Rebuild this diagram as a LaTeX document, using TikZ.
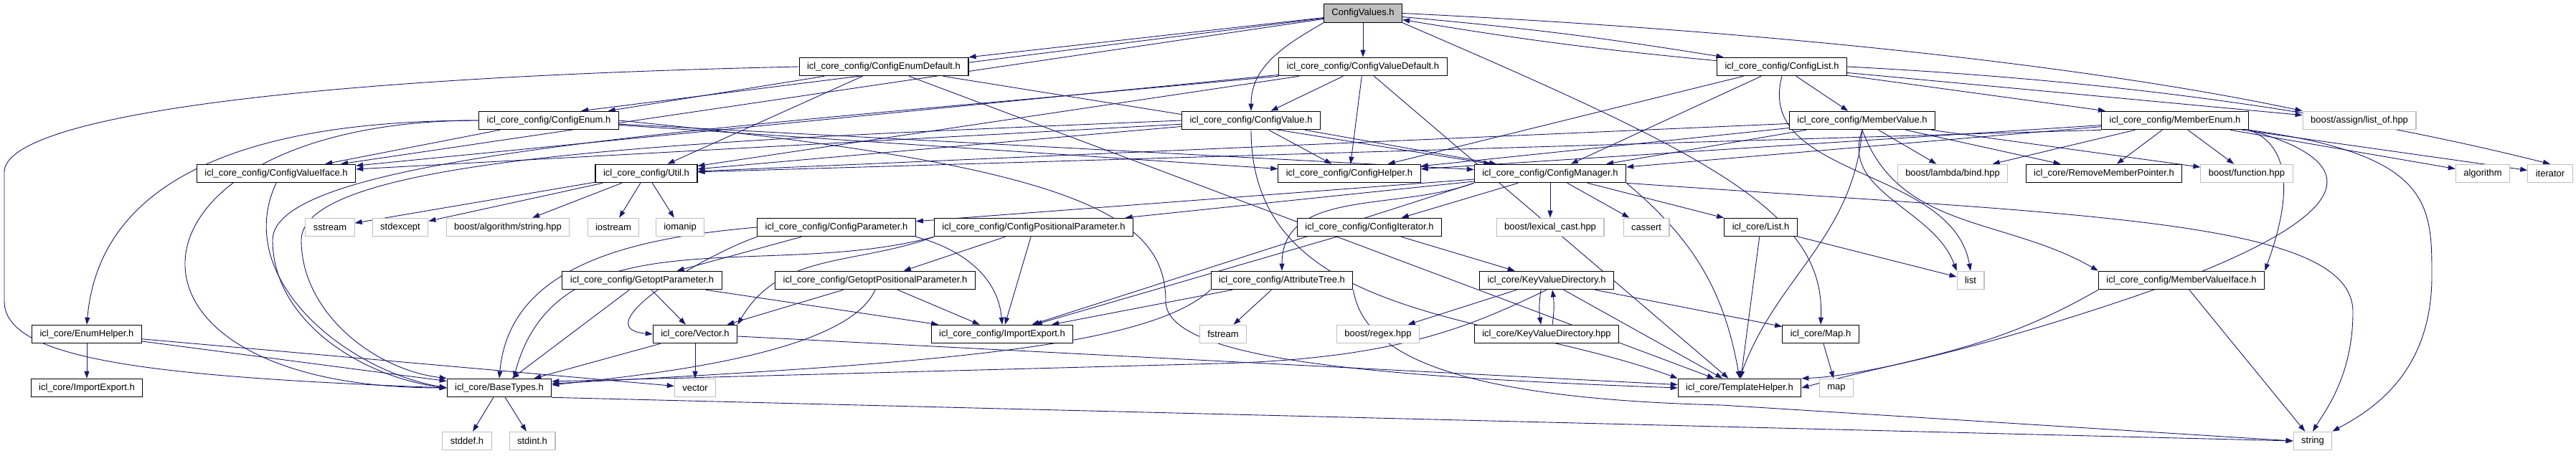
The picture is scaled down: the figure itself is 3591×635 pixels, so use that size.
\documentclass[tikz,border=0pt]{standalone}
\usepackage{fontspec}
\setmainfont{Liberation Sans}
\usetikzlibrary{arrows.meta}
\definecolor{edgeblue}{HTML}{191970}
\definecolor{sysgray}{HTML}{BFBFBF}
\pgfdeclarelayer{edges}
\pgfsetlayers{edges,main}

\begin{document}
\begin{tikzpicture}
[
x=1pt,y=1pt,
header/.style={draw=black,line width=1.1pt,fill=white,minimum height=25.5pt,inner xsep=11pt,inner ysep=0pt,font=\fontsize{13}{15}\selectfont},
sysheader/.style={header,draw=sysgray},
rootheader/.style={header,fill=sysgray},
dep/.style={draw=edgeblue,line width=0.9pt,-{Triangle[length=10pt,width=7pt]}},
]
\useasboundingbox (0,0) rectangle (3591,635);

%Place the nodes
\node[rootheader] (cvs) at (1900,616.5) {ConfigValues.h};
\node[header] (enumdef) at (1232,542) {icl\_core\_config/ConfigEnumDefault.h};
\node[header] (valuedef) at (1900,542) {icl\_core\_config/ConfigValueDefault.h};
\node[header] (clist) at (2484,542) {icl\_core\_config/ConfigList.h};
\node[header] (enum) at (765,467) {icl\_core\_config/ConfigEnum.h};
\node[header] (value) at (1744,467) {icl\_core\_config/ConfigValue.h};
\node[header] (mvalue) at (2596,467) {icl\_core\_config/MemberValue.h};
\node[header] (menum) at (3032,467) {icl\_core\_config/MemberEnum.h};
\node[sysheader] (listof) at (3289,467) {boost/assign/list\_of.hpp};
\node[header] (viface) at (385,393) {icl\_core\_config/ConfigValueIface.h};
\node[header] (util) at (901,393) {icl\_core\_config/Util.h};
\node[header] (helper) at (1881,393) {icl\_core\_config/ConfigHelper.h};
\node[header] (manager) at (2161,393) {icl\_core\_config/ConfigManager.h};
\node[sysheader] (bind) at (2722,393) {boost/lambda/bind.hpp};
\node[header] (rmp) at (2933,393) {icl\_core/RemoveMemberPointer.h};
\node[sysheader] (function) at (3132,393) {boost/function.hpp};
\node[sysheader] (algorithm) at (3461,393) {algorithm};
\node[sysheader] (iterator) at (3555,393) {iterator};
\node[sysheader] (sstream) at (460,318) {sstream};
\node[sysheader] (stdexcept) at (558,318) {stdexcept};
\node[sysheader] (algstring) at (708,318) {boost/algorithm/string.hpp};
\node[sysheader] (iostream) at (855,318) {iostream};
\node[sysheader] (iomanip) at (948,318) {iomanip};
\node[header] (param) at (1166,318) {icl\_core\_config/ConfigParameter.h};
\node[header] (posparam) at (1441,318) {icl\_core\_config/ConfigPositionalParameter.h};
\node[header] (citer) at (1909,318) {icl\_core\_config/ConfigIterator.h};
\node[sysheader] (lexcast) at (2161,318) {boost/lexical\_cast.hpp};
\node[sysheader] (cassert) at (2295,318) {cassert};
\node[header] (icllist) at (2454.5,318) {icl\_core/List.h};
\node[header] (getopt) at (895,244) {icl\_core\_config/GetoptParameter.h};
\node[header] (getoptpos) at (1220,244) {icl\_core\_config/GetoptPositionalParameter.h};
\node[header] (atree) at (1787,244) {icl\_core\_config/AttributeTree.h};
\node[header] (kvd) at (2156,244) {icl\_core/KeyValueDirectory.h};
\node[sysheader] (list) at (2747,244) {list};
\node[header] (mviface) at (3041,244) {icl\_core\_config/MemberValueIface.h};
\node[header] (enumhelper) at (121,169) {icl\_core/EnumHelper.h};
\node[header] (vectorh) at (969,169) {icl\_core/Vector.h};
\node[header] (cfgie) at (1397,169) {icl\_core\_config/ImportExport.h};
\node[sysheader] (fstream) at (1705,169) {fstream};
\node[sysheader] (regex) at (1921,169) {boost/regex.hpp};
\node[header] (kvdhpp) at (2156,169) {icl\_core/KeyValueDirectory.hpp};
\node[header] (maph) at (2538,169) {icl\_core/Map.h};
\node[header] (coreie) at (121,94) {icl\_core/ImportExport.h};
\node[header] (basetypes) at (696,94) {icl\_core/BaseTypes.h};
\node[sysheader] (vector) at (969,94) {vector};
\node[header] (tplhelper) at (2425,94) {icl\_core/TemplateHelper.h};
\node[sysheader] (map) at (2560,94) {map};
\node[sysheader] (stddef) at (651,20) {stddef.h};
\node[sysheader] (stdint) at (742,20) {stdint.h};
\node[sysheader] (string) at (3224,20) {string};

%Draw the connections
\begin{pgfonlayer}{edges}
%ConfigValues.h
\draw[dep] (cvs) -- (enumdef);
\draw[dep] (cvs) -- ([xshift=45pt]enum.north);
\draw[dep] (cvs) -- (viface);
\draw[dep] (cvs) -- (valuedef);
\draw[dep] (cvs.south west) to[out=-150,in=90] (value.north);
\draw[dep] (cvs) to[bend left=2] (clist);
\draw[dep] (clist) to[bend left=2] (cvs);
\draw[dep] (cvs.east) .. controls (2600,585) and (3000,525) .. (listof.north west);
\draw[dep] (cvs.south east) .. controls (2380,420) and (2545,340) .. (maph.north);
%ConfigEnumDefault.h
\draw[dep] (enumdef) -- (enum);
\draw[dep] (enumdef) -- (util);
\draw[dep] (enumdef) -- (manager);
\draw[dep] (enumdef) -- (tplhelper);
\draw[dep] (enumdef.west) .. controls (350,525) and (6,465) .. (6,395) -- (6,215) .. controls (6,135) and (200,110) .. (basetypes.west);
%ConfigValueDefault.h
\draw[dep] (valuedef) -- (value);
\draw[dep] (valuedef) -- (helper);
\draw[dep] (valuedef) -- (util);
\draw[dep] (valuedef) -- (viface);
\draw[dep] (valuedef) -- (tplhelper);
\draw[dep] (valuedef.south west) .. controls (1000,455) and (380,420) .. (380,300) .. controls (380,190) and (500,110) .. (basetypes.west);
%ConfigList.h
\draw[dep] (clist) -- (mvalue);
\draw[dep] (clist) -- (menum);
\draw[dep] (clist) -- (helper);
\draw[dep] (clist) -- (manager);
\draw[dep] (clist) -- (listof);
\draw[dep] (clist.east) .. controls (3000,520) and (3300,470) .. (iterator.north);
\draw[dep] (clist.south) to[out=-105,in=100] (list.north);
%ConfigEnum.h
\draw[dep] (enum.west) to[out=180,in=85] (enumhelper.north);
\draw[dep] (enum.west) to[out=180,in=180,looseness=3.5] (basetypes.west);
\draw[dep] (enum) -- (viface);
\draw[dep] (enum) -- (helper);
\draw[dep] (enum) -- (manager);
\draw[dep] (enum.east) .. controls (1500,405) and (1625,335) .. (1625,215) .. controls (1625,135) and (1900,110) .. (tplhelper.west);
%ConfigValue.h
\draw[dep] (value) -- (helper);
\draw[dep] (value) -- (manager);
\draw[dep] (value) -- (util);
\draw[dep] (value) -- (viface);
\draw[dep] (value.west) .. controls (1000,440) and (420,420) .. (420,300) .. controls (420,200) and (520,120) .. (basetypes.north west);
\draw[dep] (value.south) to[out=-90,in=160] (tplhelper.north west);
%MemberValue.h
\draw[dep] (mvalue) -- (helper);
\draw[dep] (mvalue) -- (manager);
\draw[dep] (mvalue) -- (util);
\draw[dep] (mvalue) -- (bind);
\draw[dep] (mvalue) -- (rmp);
\draw[dep] (mvalue) -- (function);
\draw[dep] (mvalue.south) to[out=-110,in=110] (list.north west);
\draw[dep] (mvalue.south) to[out=-95,in=70] (tplhelper.north);
\draw[dep] (mvalue.south) to[out=-70,in=150] (mviface.north west);
%MemberEnum.h
\draw[dep] (menum) -- (helper);
\draw[dep] (menum) -- (manager);
\draw[dep] (menum.south west) -- (util);
\draw[dep] (menum) -- (bind);
\draw[dep] (menum) -- (rmp);
\draw[dep] (menum) -- (function);
\draw[dep] (menum) -- (algorithm);
\draw[dep] (menum) -- (iterator);
\draw[dep] (menum.south east) to[out=-20,in=70] (mviface.north east);
\draw[dep] (menum.south east) .. controls (3390,420) and (3390,350) .. (3390,250) .. controls (3390,110) and (3300,60) .. (string.north east);
\draw[dep] (menum.south east) .. controls (3330,400) and (3250,320) .. (3000,230) .. controls (2800,160) and (2600,110) .. (tplhelper.north east);
%ConfigValueIface.h
\draw[dep] (viface.south) to[out=-115,in=170] (basetypes.west);
%Util.h
\draw[dep] (util) -- (sstream);
\draw[dep] (util) -- (stdexcept);
\draw[dep] (util) -- (algstring);
\draw[dep] (util) -- (iostream);
\draw[dep] (util) -- (iomanip);
%ConfigManager.h
\draw[dep] (manager) -- (citer);
\draw[dep] (manager) -- (lexcast);
\draw[dep] (manager) -- (cassert);
\draw[dep] (manager) -- (icllist);
\draw[dep] (manager) -- (param);
\draw[dep] (manager) -- (posparam);
\draw[dep] (manager.south west) to[out=-160,in=90] (atree.north);
\draw[dep] (manager.south west) -- (cfgie);
\draw[dep] (manager.south east) to[out=-40,in=100] (tplhelper.north);
\draw[dep] (manager.south east) .. controls (2900,335) and (3280,330) .. (3280,200) .. controls (3280,110) and (3240,60) .. (string.north);
%ConfigParameter.h
\draw[dep] (param) -- (getopt);
\draw[dep] (param.south east) to[out=-15,in=95] (cfgie.north);
\draw[dep] (param.west) to[out=185,in=85] (basetypes.north);
\draw[dep] (param.south west) to[out=200,in=175,looseness=1.2] (vectorh.west);
%ConfigPositionalParameter.h
\draw[dep] (posparam) -- (getoptpos);
\draw[dep] (posparam) -- (cfgie);
\draw[dep] (posparam.south west) to[out=195,in=75] ([xshift=20pt]basetypes.north);
\draw[dep] (posparam.south west) to[out=200,in=60] (vectorh.north east);
%ConfigIterator.h
\draw[dep] (citer) -- (kvd);
\draw[dep] (citer) -- (cfgie);
%List.h
\draw[dep] (icllist) -- (list);
\draw[dep] (icllist) -- (tplhelper);
%GetoptParameter.h
\draw[dep] (getopt) -- (basetypes);
\draw[dep] (getopt) -- (vectorh);
\draw[dep] (getopt) -- (cfgie);
%GetoptPositionalParameter.h
\draw[dep] (getoptpos) -- (vectorh);
\draw[dep] (getoptpos) -- (cfgie);
\draw[dep] (getoptpos.south) .. controls (1180,140) and (900,112) .. ([yshift=4pt]basetypes.east);
%AttributeTree.h
\draw[dep] (atree) -- (cfgie);
\draw[dep] (atree) -- (fstream);
\draw[dep] (atree.south west) .. controls (1600,150) and (1300,128) .. ([yshift=6pt]basetypes.east);
\draw[dep] (atree.south east) .. controls (1900,150) and (2000,80) .. (2400,70) -- (string.west);
%KeyValueDirectory.h
\draw[dep] (kvd) -- (regex);
\draw[dep] ([xshift=-8pt]kvd.south) to[bend right=8] ([xshift=-8pt]kvdhpp.north);
\draw[dep] ([xshift=8pt]kvdhpp.north) to[bend right=8] ([xshift=8pt]kvd.south);
\draw[dep] (kvd) -- (tplhelper);
\draw[dep] (kvd) -- (maph);
\draw[dep] (kvd.south) .. controls (2050,180) and (1950,135) .. (1700,128) -- ([yshift=9pt]basetypes.east);
%MemberValueIface.h
\draw[dep] (mviface) -- (string);
\draw[dep] (mviface.south west) to[out=-150,in=15] (tplhelper.east);
%EnumHelper.h
\draw[dep] (enumhelper) -- (coreie);
\draw[dep] (enumhelper) -- (basetypes);
\draw[dep] (enumhelper) -- (vector);
%Vector.h
\draw[dep] (vectorh) -- (basetypes);
\draw[dep] (vectorh) -- (vector);
\draw[dep] (vectorh) -- (tplhelper);
%Map.h
\draw[dep] (maph) -- (map);
%BaseTypes.h
\draw[dep] (basetypes) -- (stddef);
\draw[dep] (basetypes) -- (stdint);
\draw[dep] (basetypes.south east) -- (string.west);
\end{pgfonlayer}
\end{tikzpicture}
\end{document}
